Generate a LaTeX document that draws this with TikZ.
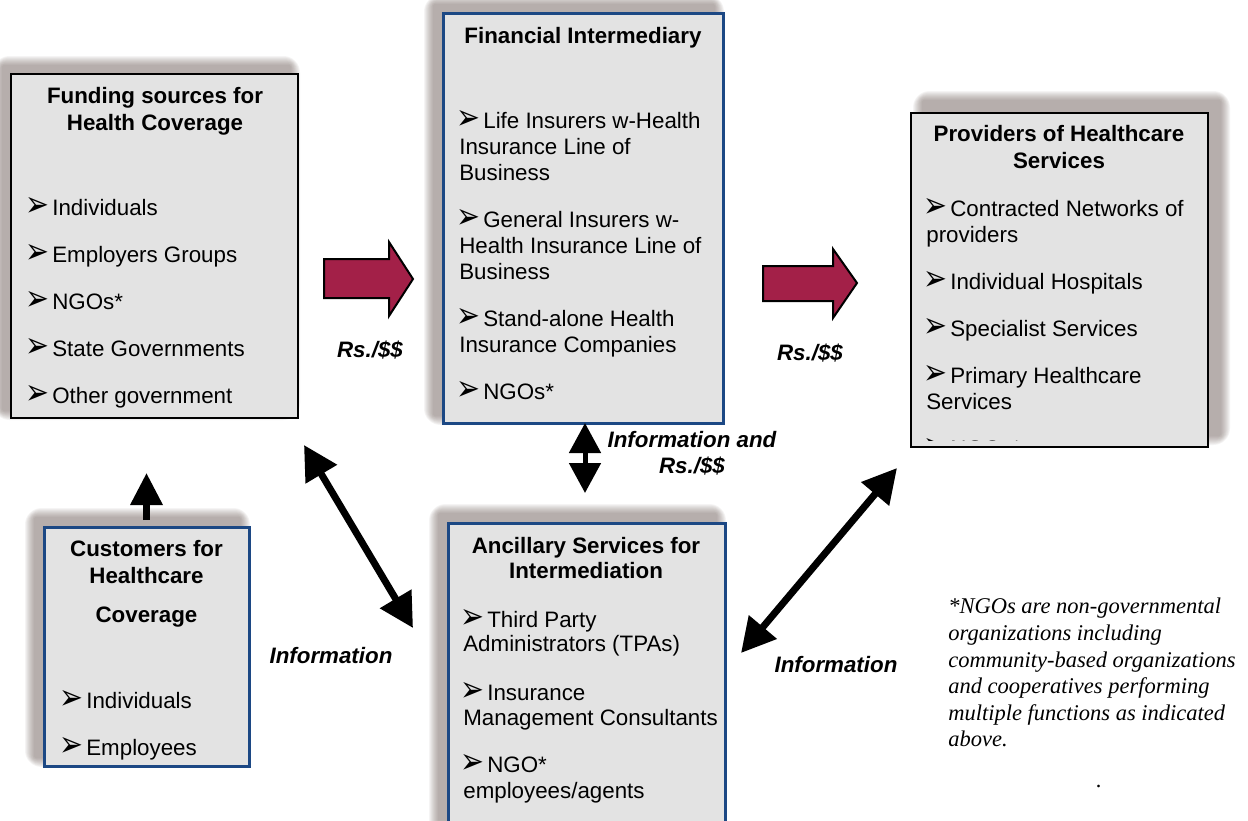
\documentclass[tikz,border=0pt]{standalone}
\usepackage{fontspec}
\setmainfont{Liberation Sans}
\newfontfamily\dingfont{DejaVu Sans}
\newfontfamily\notefont{Liberation Serif}
\usepackage{tikz}
\usetikzlibrary{arrows.meta}
\usetikzlibrary{backgrounds}
\definecolor{panelgrey}{RGB}{227,227,227}
\definecolor{panelblue}{RGB}{28,72,132}
\definecolor{flowred}{RGB}{163,32,72}
\definecolor{shadowtone}{RGB}{115,100,94}
\newcommand{\px}{0.6pt}
\newcommand{\bodyfont}{\fontsize{13.4}{15.6}\selectfont}
\newcommand{\headfont}{\bodyfont\bfseries}
\newcommand{\flowfont}{\bodyfont\bfseries\itshape}
\newcommand{\notestyle}{\fontsize{13.5}{16}\selectfont\notefont\itshape}
\newcommand{\itm}{\makebox[14.4pt][l]{\hspace*{-1.6pt}\raisebox{-0.6pt}{\scalebox{1.28}[1.6]{\dingfont ➢}}}}
% soft shadow behind a panel: node, x offset, y offset
\newcommand{\panelshadow}[3]{%
  \foreach \k in {1,...,10}
    \fill[shadowtone, opacity=0.065, rounded corners=\k pt]
      ([shift={(#2-\k,#3-\k)}]#1.north west) rectangle ([shift={(#2+\k,#3+\k)}]#1.south east);}
\tikzstyle{panel}=[draw, fill=panelgrey, inner sep=0, outer sep=0]
\tikzstyle{blackpanel}=[panel, draw=black, line width=1.5pt]
\tikzstyle{bluepanel}=[panel, draw=panelblue, line width=1.8pt]
\tikzstyle{head}=[inner sep=0, anchor=base, font=\headfont]
\tikzstyle{entry}=[inner sep=0, anchor=base west, font=\bodyfont]
\tikzstyle{flowlabel}=[inner sep=0, align=center, font=\flowfont]
\tikzstyle{note}=[inner sep=0, anchor=base west, font=\notestyle]
\tikzstyle{flowarrow}=[draw=black, line width=1.2pt, fill=flowred, line join=miter]
\tikzstyle{infoarrow}=[line width=4.2pt, {Triangle[width=21pt,length=20.4pt]}-{Triangle[width=21pt,length=20.4pt]}]
\tikzstyle{moneyarrow}=[line width=3pt, {Triangle[width=18.6pt,length=18pt]}-{Triangle[width=18.6pt,length=18pt]}]
\tikzstyle{uparrow}=[line width=4pt, -{Triangle[width=18.6pt,length=19.2pt]}]

\begin{document}
\begin{tikzpicture}[x=0.6pt, y=-0.6pt]
        \useasboundingbox (0,0) rectangle (1248,820);
        \clip (0,0) rectangle (1248,820);
        % panels
        \node[blackpanel, minimum width=287*\px, minimum height=344*\px] (Fund) at (154.5,246) {};
        \node[bluepanel, minimum width=280*\px, minimum height=410*\px] (Fin) at (583,218) {};
        \node[blackpanel, minimum width=297*\px, minimum height=334*\px] (Prov) at (1059.5,280) {};
        \node[bluepanel, minimum width=205*\px, minimum height=239*\px] (Cust) at (146.5,646.5) {};
        \node[bluepanel, minimum width=277*\px, minimum height=330*\px] (Anc) at (586.5,688) {};
        \begin{scope}[on background layer]
            \fill[white] (0,0) rectangle (1248,820);
            \panelshadow{Fund}{-8}{-8}
            \panelshadow{Fin}{-9}{-8}
            \panelshadow{Prov}{12}{-12}
            \panelshadow{Cust}{-9}{-9}
            \panelshadow{Anc}{-9}{-9}
        \end{scope}
        % funding sources
        \node[head]  (Fund1) at (155,103) {Funding sources for};
        \node[head]  (Fund2) at (155,130) {Health Coverage};
        \node[entry] (Fund3) at (28,215) {\itm Individuals};
        \node[entry] (Fund4) at (28,262) {\itm Employers Groups};
        \node[entry] (Fund5) at (28,309) {\itm NGOs*};
        \node[entry] (Fund6) at (28,356) {\itm State Governments};
        \node[entry] (Fund7) at (28,403) {\itm Other government};
        % financial intermediary
        \node[head]  (Fin1)  at (583,43) {Financial Intermediary};
        \node[entry] (Fin2)  at (459,128) {\itm Life Insurers w-Health};
        \node[entry] (Fin3)  at (459,154) {Insurance Line of};
        \node[entry] (Fin4)  at (459,180) {Business};
        \node[entry] (Fin5)  at (459,227) {\itm General Insurers w-};
        \node[entry] (Fin6)  at (459,253) {Health Insurance Line of};
        \node[entry] (Fin7)  at (459,279) {Business};
        \node[entry] (Fin8)  at (459,326) {\itm Stand-alone Health};
        \node[entry] (Fin9)  at (459,352) {Insurance Companies};
        \node[entry] (Fin10) at (459,399) {\itm NGOs*};
        % providers
        \node[head]  (Prov1) at (1059,141) {Providers of Healthcare};
        \node[head]  (Prov2) at (1059,168) {Services};
        \node[entry] (Prov3) at (926,216) {\itm Contracted Networks of};
        \node[entry] (Prov4) at (926,242) {providers};
        \node[entry] (Prov5) at (926,289) {\itm Individual Hospitals};
        \node[entry] (Prov6) at (926,336) {\itm Specialist Services};
        \node[entry] (Prov7) at (926,383) {\itm Primary Healthcare};
        \node[entry] (Prov8) at (926,409) {Services};
        \begin{scope}
            \clip (Prov.north west) rectangle ([shift={(0,-7)}]Prov.south east);
            \node[entry] (Prov9) at (926,456) {\itm NGOs*};
        \end{scope}
        % customers
        \node[head]  (Cust1) at (146.5,556) {Customers for};
        \node[head]  (Cust2) at (146.5,583) {Healthcare};
        \node[head]  (Cust3) at (146.5,622) {Coverage};
        \node[entry] (Cust4) at (62,708) {\itm Individuals};
        \node[entry] (Cust5) at (62,755) {\itm Employees};
        % ancillary services
        \node[head]  (Anc1) at (586,553) {Ancillary Services for};
        \node[head]  (Anc2) at (586,578) {Intermediation};
        \node[entry] (Anc3) at (463,627) {\itm Third Party};
        \node[entry] (Anc4) at (463,651) {Administrators (TPAs)};
        \node[entry] (Anc5) at (463,700) {\itm Insurance};
        \node[entry] (Anc6) at (463,725) {Management Consultants};
        \node[entry] (Anc7) at (463,772) {\itm NGO*};
        \node[entry] (Anc8) at (463,798) {employees/agents};
        % money flow
        \draw[flowarrow] (324,259) -- (389,259) -- (389,242) -- (413,279) -- (389,316) -- (389,298) -- (324,298) -- cycle;
        \draw[flowarrow] (763,266) -- (833,266) -- (833,249) -- (857,283) -- (833,318) -- (833,301) -- (763,301) -- cycle;
        \node[flowlabel] (RsA) at (370,350) {Rs./\$\$};
        \node[flowlabel] (RsB) at (810,353) {Rs./\$\$};
        % information flow
        \draw[infoarrow] ([shift={(6,27)}]Fund.south east) -- ([shift={(-35,105)}]Anc.north west);
        \draw[infoarrow] ([shift={(-14,21)}]Prov.south west) -- ([shift={(16,130)}]Anc.north east);
        \draw[moneyarrow] ([shift={(2,0)}]Fin.south) -- ([shift={(-1.5,-30)}]Anc.north);
        \draw[uparrow] ([shift={(0,-7)}]Cust.north) -- ([shift={(-8,55)}]Fund.south);
        \node[flowlabel] (InfoRs) at (692,453) {Information and\\Rs./\$\$};
        \node[flowlabel] (InfoA) at (331,656) {Information};
        \node[flowlabel] (InfoB) at (836,665) {Information};
        % footnote
        \node[note] (Note1) at (948,613) {*NGOs are non-governmental};
        \node[note] (Note2) at (948,640) {organizations including};
        \node[note] (Note3) at (948,667) {community-based organizations};
        \node[note] (Note4) at (948,693) {and cooperatives performing};
        \node[note] (Note5) at (948,720) {multiple functions as indicated};
        \node[note] (Note6) at (948,746) {above.};
        \node[note] (Dot) at (1096,787) {.};
    \end{tikzpicture}
\end{document}
